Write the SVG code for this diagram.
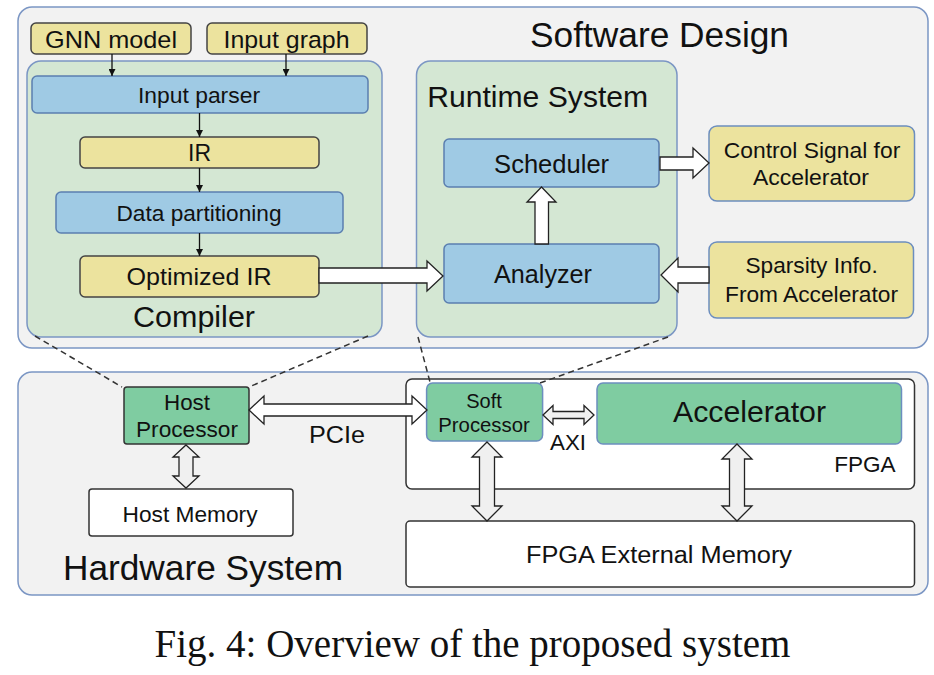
<svg xmlns="http://www.w3.org/2000/svg" width="934" height="675" viewBox="0 0 934 675">
<style>
.t{font-family:"Liberation Sans",Arial,sans-serif;fill:#111;text-anchor:middle}
.outer{fill:#f2f2f2;stroke:#7b96c4;stroke-width:1.5}
.grn{fill:#d4e7d3;stroke:#7b96c4;stroke-width:1.5}
.yk{fill:#ece39e;stroke:#444;stroke-width:1.5}
.yb{fill:#ece39e;stroke:#6c8ebf;stroke-width:1.5}
.blu{fill:#9fcae4;stroke:#5b7fb0;stroke-width:1.5}
.acc{fill:#7fcca1;stroke:#6c8ebf;stroke-width:1.5}
.acck{fill:#7fcca1;stroke:#333;stroke-width:1.5}
.wht{fill:#fff;stroke:#333;stroke-width:1.5}
.barrow{fill:#fff;stroke:#222;stroke-width:1.3;stroke-linejoin:miter}
.garrow{fill:#f0f0f0;stroke:#222;stroke-width:1.3}
.thin{stroke:#111;stroke-width:1.3;fill:none;marker-end:url(#ah)}
.dash{stroke:#333;stroke-width:1.5;stroke-dasharray:6 4;fill:none}
</style>
<defs>
<marker id="ah" viewBox="0 0 10 10" refX="10" refY="5" markerWidth="7" markerHeight="7" markerUnits="userSpaceOnUse" orient="auto">
<path d="M0,0 L10,5 L0,10 z" fill="#111"/>
</marker>
</defs>
<rect width="934" height="675" fill="#fff"/>

<g id="software-design">
<rect class="outer" x="18" y="7" width="910" height="341" rx="14"/>
<text class="t" x="659.5" y="47" font-size="35" textLength="259" lengthAdjust="spacingAndGlyphs">Software Design</text>
</g>
<g id="hardware-system">
<rect class="outer" x="18" y="372" width="910" height="223" rx="14"/>
<text class="t" x="203" y="580" font-size="34.5" textLength="280" lengthAdjust="spacingAndGlyphs">Hardware System</text>
</g>
<g id="compiler">
<rect class="grn" x="27" y="61" width="355" height="276" rx="14"/>
<text class="t" x="194" y="327" font-size="29.5" textLength="122" lengthAdjust="spacingAndGlyphs">Compiler</text>
</g>
<g id="runtime-system">
<rect class="grn" x="416.5" y="61" width="260.5" height="276" rx="14"/>
<text class="t" x="537.7" y="107" font-size="29.5" textLength="221" lengthAdjust="spacingAndGlyphs">Runtime System</text>
</g>
<g id="gnn-model">
<rect class="yk" x="31" y="23" width="160" height="31" rx="5"/>
<text class="t" x="111" y="48" font-size="24.5" textLength="132" lengthAdjust="spacingAndGlyphs">GNN model</text>
</g>
<g id="input-graph">
<rect class="yk" x="207" y="23" width="160" height="31" rx="5"/>
<text class="t" x="286.5" y="48" font-size="24.5" textLength="126" lengthAdjust="spacingAndGlyphs">Input graph</text>
</g>
<g id="input-parser">
<rect class="blu" x="32" y="76" width="336" height="37" rx="5"/>
<text class="t" x="199" y="102.5" font-size="22.5" textLength="122" lengthAdjust="spacingAndGlyphs">Input parser</text>
</g>
<g id="ir">
<rect class="yk" x="80" y="137" width="239" height="31" rx="5"/>
<text class="t" x="199.5" y="161" font-size="23" textLength="23" lengthAdjust="spacingAndGlyphs">IR</text>
</g>
<g id="data-partitioning">
<rect class="blu" x="56" y="192" width="287" height="41" rx="5"/>
<text class="t" x="199" y="220.5" font-size="22.5" textLength="165" lengthAdjust="spacingAndGlyphs">Data partitioning</text>
</g>
<g id="optimized-ir">
<rect class="yk" x="80" y="256" width="239" height="41" rx="5"/>
<text class="t" x="199" y="285" font-size="24.5" textLength="145" lengthAdjust="spacingAndGlyphs">Optimized IR</text>
</g>
<g id="scheduler">
<rect class="blu" x="444" y="139" width="215" height="48" rx="5"/>
<text class="t" x="551.6" y="172.5" font-size="25" textLength="115" lengthAdjust="spacingAndGlyphs">Scheduler</text>
</g>
<g id="analyzer">
<rect class="blu" x="444" y="244" width="215" height="59" rx="5"/>
<text class="t" x="543" y="283" font-size="25" textLength="98" lengthAdjust="spacingAndGlyphs">Analyzer</text>
</g>
<g id="control-signal">
<rect class="yb" x="709" y="126" width="205.5" height="75" rx="8"/>
<text class="t" x="812" y="158.3" font-size="22.5" textLength="176.5" lengthAdjust="spacingAndGlyphs">Control Signal for</text>
<text class="t" x="811" y="185" font-size="22.5" textLength="116" lengthAdjust="spacingAndGlyphs">Accelerator</text>
</g>
<g id="sparsity-info">
<rect class="yb" x="709" y="242" width="204.5" height="76" rx="8"/>
<text class="t" x="811.6" y="273.3" font-size="22.5" textLength="132.4" lengthAdjust="spacingAndGlyphs">Sparsity Info.</text>
<text class="t" x="811.5" y="301.7" font-size="22.5" textLength="173" lengthAdjust="spacingAndGlyphs">From Accelerator</text>
</g>
<g id="fpga">
<rect class="wht" x="406" y="379" width="508.5" height="110" rx="6"/>
<text class="t" x="895.6" y="472" font-size="22" style="text-anchor:end" textLength="61.4" lengthAdjust="spacingAndGlyphs">FPGA</text>
</g>
<g id="host-processor">
<rect class="acck" x="124" y="387" width="125" height="57" rx="3"/>
<text class="t" x="187" y="410" font-size="22" textLength="46" lengthAdjust="spacingAndGlyphs">Host</text>
<text class="t" x="187" y="437" font-size="22" textLength="102" lengthAdjust="spacingAndGlyphs">Processor</text>
</g>
<g id="host-memory">
<rect class="wht" x="89" y="489" width="204" height="47" rx="3"/>
<text class="t" x="190" y="521.7" font-size="22.5" textLength="135" lengthAdjust="spacingAndGlyphs">Host Memory</text>
</g>
<g id="soft-processor">
<rect class="acc" x="426.6" y="383" width="116" height="58" rx="6"/>
<text class="t" x="484" y="408" font-size="20">Soft</text>
<text class="t" x="484" y="432" font-size="20" textLength="91.5" lengthAdjust="spacingAndGlyphs">Processor</text>
</g>
<g id="accelerator">
<rect class="acc" x="597" y="383" width="304.5" height="61" rx="6"/>
<text class="t" x="749.5" y="422" font-size="30" textLength="153" lengthAdjust="spacingAndGlyphs">Accelerator</text>
</g>
<g id="fpga-external-memory">
<rect class="wht" x="406" y="521" width="508.5" height="66" rx="4"/>
<text class="t" x="659" y="563" font-size="23" textLength="266" lengthAdjust="spacingAndGlyphs">FPGA External Memory</text>
</g>

<g id="connectors">
<line class="thin" x1="112" y1="54" x2="112" y2="76"/>
<line class="thin" x1="286" y1="54" x2="286" y2="76"/>
<line class="thin" x1="199.5" y1="113" x2="199.5" y2="137"/>
<line class="thin" x1="199.5" y1="168" x2="199.5" y2="192"/>
<line class="thin" x1="199.5" y1="233" x2="199.5" y2="256"/>
<polygon class="barrow" points="319,268 427,268 427,261 443,276 427,291 427,283 319,283"/>
<polygon class="barrow" points="660,157 693,157 693,148 709,163 693,178 693,170 660,170"/>
<polygon class="barrow" points="535,244 535,202 527,202 541.5,187 556,202 548.5,202 548.5,244"/>
<polygon class="barrow" points="709,267 678,267 678,258 661,275 678,292 678,283 709,283"/>
<polygon class="barrow" points="249,410 264,396 264,404 412,404 412,396 427,410 412,424 412,416 264,416 264,424"/>
<text class="t" x="337" y="443" font-size="24.5" textLength="56" lengthAdjust="spacingAndGlyphs">PCIe</text>
<polygon class="garrow" points="543,415 553,405.5 553,411.5 584,411.5 584,405.5 594,415 584,424.5 584,418.5 553,418.5 553,424.5"/>
<text class="t" x="568" y="450" font-size="22" textLength="36" lengthAdjust="spacingAndGlyphs">AXI</text>
<polygon class="garrow" points="186,445 199,457 193,457 193,476 199,476 186,488 173,476 179,476 179,457 173,457"/>
<polygon class="garrow" points="487,442 502,457 494.5,457 494.5,506 502,506 487,521 472,506 479.5,506 479.5,457 472,457"/>
<polygon class="garrow" points="737,444 752,459 744.5,459 744.5,506 752,506 737,521 722,506 729.5,506 729.5,459 722,459"/>
<line class="dash" x1="35" y1="336" x2="122" y2="387"/>
<line class="dash" x1="368" y1="336" x2="249" y2="387"/>
<line class="dash" x1="418" y1="337" x2="430" y2="382"/>
<line class="dash" x1="668" y1="337" x2="540" y2="383"/>
</g>

<text x="472.5" y="656.5" font-family="'Liberation Serif','Times New Roman',serif" font-size="39" text-anchor="middle" fill="#111">Fig. 4: Overview of the proposed system</text>
</svg>
